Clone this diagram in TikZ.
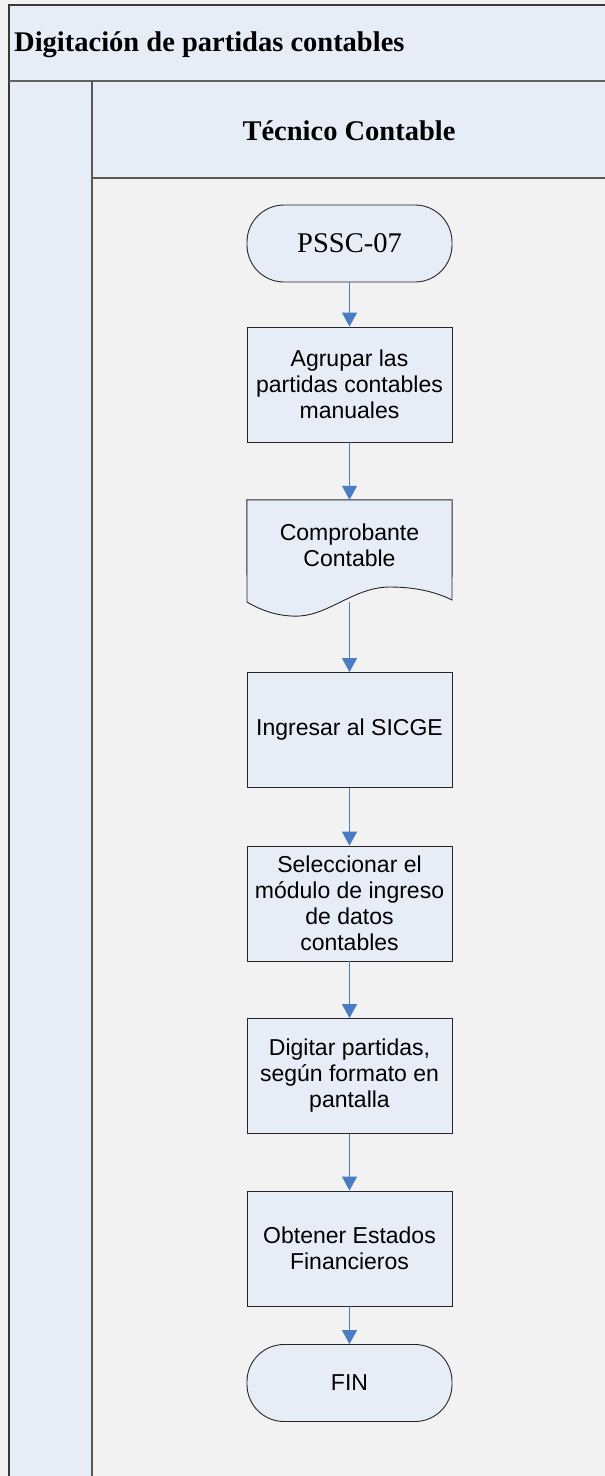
\documentclass[tikz,border=0pt]{standalone}
\usepackage{fontspec}
\setmainfont{Liberation Serif}
\newfontfamily\arialfont{Liberation Sans}
\usetikzlibrary{arrows.meta}

\definecolor{pagebg}{HTML}{F2F2F2}
\definecolor{laneblue}{HTML}{E6EDF7}
\definecolor{nodeblue}{HTML}{E6EDF7}
\definecolor{frameline}{HTML}{3A3A3A}
\definecolor{arrowblue}{HTML}{4A7CC4}

\tikzset{
  procbox/.style={draw=black!85, line width=0.9pt, fill=nodeblue,
    minimum width=205pt, minimum height=115pt, inner sep=0pt,
    align=center, font=\arialfont\fontsize{23}{26}\selectfont},
  termbox/.style={procbox, rounded corners=37pt, minimum height=77pt},
  docbox/.style={minimum width=205pt, minimum height=102pt, inner sep=0pt,
    align=center, font=\arialfont\fontsize{23}{26}\selectfont},
  flow/.style={draw=arrowblue, line width=1.2pt,
    -{Triangle[length=14pt,width=15pt]}},
  titletext/.style={font=\bfseries\fontsize{28.5}{32}\selectfont, inner sep=0pt},
}

\begin{document}
\begin{tikzpicture}[x=1pt,y=-1pt]
  % page
  \fill[pagebg] (0,0) rectangle (605,1476);
  \useasboundingbox (0,0) rectangle (605,1476);

  % pool header, role column and lane header
  \fill[laneblue] (9,5) rectangle (607,81);
  \fill[laneblue] (9,81) rectangle (92,1478);
  \fill[laneblue] (92,81) rectangle (607,178);
  \draw[frameline, line width=1.4pt] (9,1478) -- (9,5) -- (607,5);
  \draw[frameline!80, line width=2pt] (9,81) -- (607,81);
  \draw[frameline!85, line width=1.4pt] (92,81) -- (92,1478);
  \draw[frameline!85, line width=1.4pt] (92,178) -- (607,178);

  \node[titletext, anchor=west] (pool) at (14,45) {Digitación de partidas contables};
  \node[titletext] (lane) at (349,131) {Técnico Contable};

  % flow nodes
  \node[termbox, font=\fontsize{28.5}{32}\selectfont] (start) at (349.5,243.5) {PSSC-07};
  \node[procbox] (agrupar) at (349.5,384.5) {Agrupar las\\partidas contables\\manuales};
  \node[docbox] (comp) at (349.5,551) {};
  \draw[black!85, line width=0.9pt, fill=nodeblue]
    (comp.north west) -- (comp.north east) -- (452,600)
    .. controls (440,594) and (420,587) .. (390,587)
    .. controls (355,587) and (330,614) .. (300,616)
    .. controls (280,617) and (262,611) .. (247,602) -- cycle;
  \node[font=\arialfont\fontsize{23}{26}\selectfont, align=center] (comptext)
    at (349.5,545) {Comprobante\\Contable};
  \node[procbox] (sicge) at (349.5,730) {Ingresar al SICGE};
  \node[procbox] (modulo) at (349.5,903.5) {Seleccionar el\\módulo de ingreso\\de datos\\contables};
  \node[procbox] (digitar) at (349.5,1076) {Digitar partidas,\\según formato en\\pantalla};
  \node[procbox] (estados) at (349.5,1248.5) {Obtener Estados\\Financieros};
  \node[termbox] (fin) at (349.5,1383) {FIN};

  % connectors
  \draw[flow] (start) -- (agrupar);
  \draw[flow] (agrupar) -- (comp);
  \draw[flow] (comp) -- (sicge);
  \draw[flow] (sicge) -- (modulo);
  \draw[flow] (modulo) -- (digitar);
  \draw[flow] (digitar) -- (estados);
  \draw[flow] (estados) -- (fin);
\end{tikzpicture}
\end{document}
